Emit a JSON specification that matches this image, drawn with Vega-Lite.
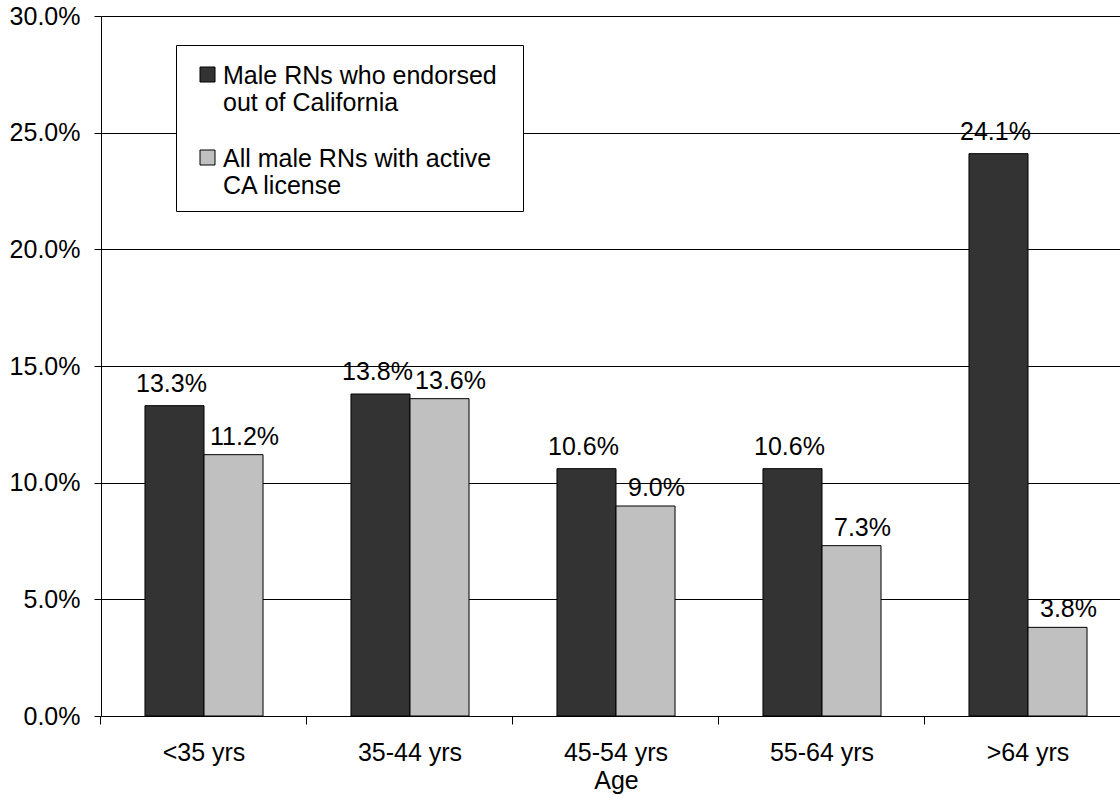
{
  "$schema": "https://vega.github.io/schema/vega-lite/v6.json",
  "autosize": "none",
  "padding": {"left": 101, "top": 16, "right": 0, "bottom": 87},
  "width": 1019,
  "height": 700,
  "background": "white",
  "config": {
    "font": "Liberation Sans",
    "view": {"stroke": null},
    "axis": {"labelColor": "black", "titleColor": "black", "domainColor": "black", "tickColor": "black", "labelFont": "Liberation Sans", "titleFont": "Liberation Sans"}
  },
  "data": {
    "values": [
      {"age": "<35 yrs", "series": "Male RNs who endorsed out of California", "value": 0.133},
      {"age": "<35 yrs", "series": "All male RNs with active CA license", "value": 0.112},
      {"age": "35-44 yrs", "series": "Male RNs who endorsed out of California", "value": 0.138},
      {"age": "35-44 yrs", "series": "All male RNs with active CA license", "value": 0.136},
      {"age": "45-54 yrs", "series": "Male RNs who endorsed out of California", "value": 0.106},
      {"age": "45-54 yrs", "series": "All male RNs with active CA license", "value": 0.090},
      {"age": "55-64 yrs", "series": "Male RNs who endorsed out of California", "value": 0.106},
      {"age": "55-64 yrs", "series": "All male RNs with active CA license", "value": 0.073},
      {"age": ">64 yrs", "series": "Male RNs who endorsed out of California", "value": 0.241},
      {"age": ">64 yrs", "series": "All male RNs with active CA license", "value": 0.038}
    ]
  },
  "encoding": {
    "x": {
      "field": "age", "type": "nominal",
      "sort": ["<35 yrs", "35-44 yrs", "45-54 yrs", "55-64 yrs", ">64 yrs"],
      "scale": {"range": [0, 1030], "paddingInner": 0.427, "paddingOuter": 0.2135},
      "title": "Age",
      "axis": {
        "bandPosition": -0.3729, "ticks": true, "tickSize": 8, "labelAngle": 0,
        "labelFontSize": 25, "labelPadding": 16,
        "titleFontSize": 25, "titleFontWeight": "normal", "titlePadding": 3,
        "grid": false
      }
    },
    "xOffset": {
      "field": "series", "type": "nominal",
      "sort": ["Male RNs who endorsed out of California", "All male RNs with active CA license"],
      "scale": {"paddingInner": 0, "paddingOuter": 0}
    },
    "y": {
      "field": "value", "type": "quantitative",
      "scale": {"domain": [0, 0.3]},
      "title": null,
      "axis": {
        "values": [0, 0.05, 0.1, 0.15, 0.2, 0.25, 0.3],
        "format": ".1%", "grid": true, "gridColor": "black", "gridOpacity": 1, "gridWidth": 1,
        "tickSize": 7, "labelFontSize": 25, "labelPadding": 14
      }
    }
  },
  "layer": [
    {
      "mark": {"type": "bar", "stroke": "black", "strokeWidth": 1},
      "encoding": {
        "color": {
          "field": "series", "type": "nominal",
          "scale": {"domain": ["Male RNs who endorsed out of California", "All male RNs with active CA license"], "range": ["#333333", "#c0c0c0"]},
          "legend": {
            "title": " ", "titleFontSize": 1, "titlePadding": 13,
            "orient": "none", "legendX": 75, "legendY": 29, "direction": "vertical",
            "symbolType": "M-1,-2.2H1V-0.2H-1Z", "symbolSize": 225, "symbolOffset": 7,
            "symbolStrokeColor": "black", "symbolStrokeWidth": 1, "symbolOpacity": 1,
            "labelFontSize": 25, "labelFont": "Liberation Sans", "labelColor": "black", "labelLimit": 600,
            "labelBaseline": "alphabetic", "labelOffset": 3, "rowPadding": 30, "padding": 12,
            "strokeColor": "black", "fillColor": "white",
            "labelExpr": "datum.label == 'Male RNs who endorsed out of California' ? ['Male RNs who endorsed\u00a0\u00a0\u200b', 'out of California'] : ['All male RNs with active', 'CA license']"
          }
        }
      }
    },
    {
      "transform": [{"filter": "datum.series == 'Male RNs who endorsed out of California'"}],
      "mark": {"type": "text", "baseline": "alphabetic", "dx": -3, "dy": -14, "fontSize": 25, "font": "Liberation Sans", "color": "black"},
      "encoding": {
        "text": {"field": "value", "type": "quantitative", "format": ".1%"}
      }
    },
    {
      "transform": [{"filter": "datum.series == 'All male RNs with active CA license'"}],
      "mark": {"type": "text", "baseline": "alphabetic", "dx": 11, "dy": -10, "fontSize": 25, "font": "Liberation Sans", "color": "black"},
      "encoding": {
        "text": {"field": "value", "type": "quantitative", "format": ".1%"}
      }
    }
  ]
}
